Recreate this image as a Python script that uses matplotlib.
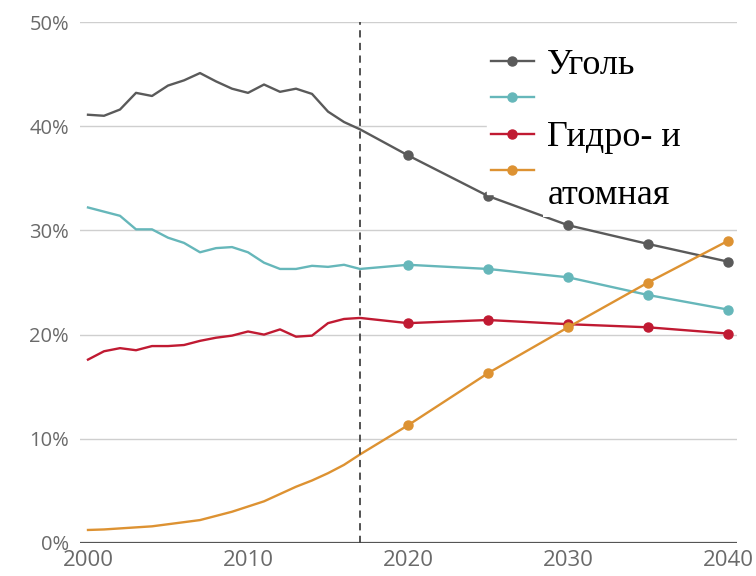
import matplotlib
matplotlib.use("Agg")
import matplotlib.pyplot as plt
from matplotlib.lines import Line2D
import numpy as np

# ---- data ----
hist_years = list(range(2000, 2018))
proj_years = [2020, 2025, 2030, 2035, 2040]

coal_hist = [41.1, 41.0, 41.6, 43.2, 42.9, 43.9, 44.4, 45.1, 44.3, 43.6,
             43.2, 44.0, 43.3, 43.6, 43.1, 41.4, 40.4, 39.7]
coal_proj = [37.2, 33.3, 30.5, 28.7, 27.0]

gas_hist = [32.2, 31.8, 31.4, 30.1, 30.1, 29.3, 28.8, 27.9, 28.3, 28.4,
            27.9, 26.9, 26.3, 26.3, 26.6, 26.5, 26.7, 26.3]
gas_proj = [26.7, 26.3, 25.5, 23.8, 22.4]

hydro_hist = [17.6, 18.4, 18.7, 18.5, 18.9, 18.9, 19.0, 19.4, 19.7, 19.9,
              20.3, 20.0, 20.5, 19.8, 19.9, 21.1, 21.5, 21.6]
hydro_proj = [21.1, 21.4, 21.0, 20.7, 20.1]

ren_hist = [1.25, 1.3, 1.4, 1.5, 1.6, 1.8, 2.0, 2.2, 2.6, 3.0,
            3.5, 4.0, 4.7, 5.4, 6.0, 6.7, 7.5, 8.5]
ren_proj = [11.3, 16.3, 20.7, 25.0, 29.0]

labels = ["Уголь", "", "Гидро- и", ""]
extra_label = "атомная"
split_year = 2017
y_ticks = [0, 10, 20, 30, 40, 50]
x_ticks = [2000, 2010, 2020, 2030, 2040]

colors = ["#5a5a5a", "#66b7ba", "#c01a32", "#dd9232"]

# ---- figure ----
fig = plt.figure(figsize=(7.56, 5.76), dpi=100)
W, H = 756, 576
ax_l, ax_r, ax_t, ax_b = 80, 737, 22, 543
ax = fig.add_axes([ax_l / W, (H - ax_b) / H, (ax_r - ax_l) / W, (ax_b - ax_t) / H])
ax.set_xlim(1999.5, 2040.56)
ax.set_ylim(0, 50)

def fx(px):
    return (px - ax_l) / (ax_r - ax_l)

def fy(py):
    return (ax_b - py) / (ax_b - ax_t)

series = [(coal_hist, coal_proj), (gas_hist, gas_proj),
          (hydro_hist, hydro_proj), (ren_hist, ren_proj)]
handles = []
for (h, p), c in zip(series, colors):
    xs = hist_years + proj_years
    ys = h + p
    n = len(hist_years)
    ax.plot(xs, ys, color=c, lw=1.7, marker="o", ms=6.5,
            markevery=list(range(n, len(xs))), zorder=3,
            solid_joinstyle="round")
    handles.append(Line2D([], [], color=c, lw=1.7, marker="o", ms=6.5))

for yv in y_ticks[1:]:
    ax.axhline(yv, color="#cfcfcf", lw=1.0, zorder=1)
ax.axhline(0, color="#555555", lw=1.6, zorder=2)
ax.axvline(split_year, color="#444444", lw=1.3, ls=(0, (4, 3)), zorder=4)

for s in ax.spines.values():
    s.set_visible(False)
ax.set_yticks(y_ticks)
ax.set_yticklabels([f"{v}%" for v in y_ticks])
ax.set_xticks(x_ticks)
ax.set_xticklabels([str(v) for v in x_ticks])
ax.tick_params(length=0, colors="#6a6a6a")
for lab in ax.get_yticklabels():
    lab.set_fontsize(14.5)
    lab.set_fontfamily("Open Sans")
for lab in ax.get_xticklabels():
    lab.set_fontsize(16)
    lab.set_fontfamily("Open Sans")
ax.tick_params(axis="y", pad=8)
ax.tick_params(axis="x", pad=5)

x0, x1 = fx(487), fx(740)
ytop = fy(45)
leg = ax.legend(handles, labels, loc="upper left",
                bbox_to_anchor=(x0, ytop - 0.5, x1 - x0, 0.5), mode="expand",
                frameon=True, fancybox=False, framealpha=1.0, edgecolor="white",
                prop={"family": "Liberation Serif", "size": 26},
                handlelength=1.2, handletextpad=0.36, labelspacing=0.08,
                borderpad=0.1, borderaxespad=0)
leg.set_zorder(5)

ax.text(fx(548), fy(195), extra_label,
        transform=ax.transAxes, family="Liberation Serif", fontsize=26,
        va="center", ha="left", zorder=6,
        bbox=dict(facecolor="white", edgecolor="none", pad=4))

fig.savefig("out.png", dpi=100)
